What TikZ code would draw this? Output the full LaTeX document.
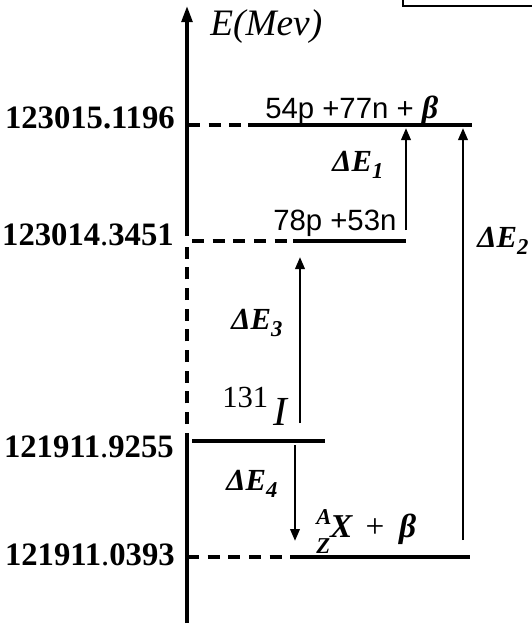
\documentclass[tikz,border=0pt]{standalone}
\usepackage{fontspec}
\setmainfont{Liberation Serif}
\newfontfamily\sansf{Liberation Sans}
\usetikzlibrary{arrows.meta}
\newcommand{\dE}[1]{ΔE\raisebox{-0.22em}{\fontsize{17}{17}\selectfont #1}}
\begin{document}
\begin{tikzpicture}[x=0.75pt,y=-0.75pt,
  level/.style={line width=2.5pt},
  guide/.style={line width=2.5pt, dash pattern=on 9pt off 6.5pt},
  trans/.style={line width=1.9pt,-{Triangle[length=9pt,width=7pt]}},
  val/.style={anchor=base east, inner sep=0pt, font=\fontsize{24.5}{24.5}\selectfont\bfseries},
  species/.style={anchor=base west, inner sep=0pt, font=\fontsize{22}{22}\selectfont\sansf},
  gap/.style={inner sep=0pt, font=\fontsize{23}{23}\selectfont\bfseries\itshape}]
\useasboundingbox (0,0) rectangle (532,626);

% corner of a frame at the top right
\draw[line width=1pt] (403,0) -- (403,6) -- (532,6);

% energy axis: solid, dashed middle part, arrow on top
\coordinate (ax0) at (187,623);
\coordinate (ax1) at (187,433);
\coordinate (ax2) at (187,424);
\coordinate (ax3) at (187,246);
\coordinate (ax4) at (187,236);
\coordinate (axtop) at (187,6);
\draw[level] (ax0) -- (ax1);
\draw[guide] (ax2) -- (ax3);
\draw[level,-{Triangle[length=12pt,width=8pt]}] (ax4) -- (axtop);
\node[anchor=base west, inner sep=0pt, font=\fontsize{28}{28}\selectfont\itshape] (unit) at (210,35) {E(Mev)};

% level 1
\coordinate (a1) at (188,125);
\coordinate (b1) at (248,125);
\coordinate (c1) at (472,125);
\draw[guide] (a1) -- (b1);
\draw[level] (b1) -- (c1);
\node[val] (v1) at (175,128) {123015.1196};
\node[species] (s1) at (265,118) {54p +77n + {\rmfamily\bfseries\itshape\fontsize{24}{24}\selectfont β}};

% level 2
\coordinate (a2) at (192,241);
\coordinate (b2) at (293,241);
\coordinate (c2) at (406,241);
\draw[guide] (a2) -- (b2);
\draw[level] (b2) -- (c2);
\node[val] (v2) at (174,245) {123014\textmd{.}3451};
\node[species] (s2) at (273,230) {78p +53n};

% level 3
\coordinate (a3) at (192,441);
\coordinate (c3) at (325,441);
\draw[level] (a3) -- (c3);
\node[val] (v3) at (174,457) {121911\textmd{.}9255};
\node[anchor=base west, inner sep=0pt] (s3) at (222,407)
  {{\fontsize{23}{23}\selectfont 131}\hspace{4pt}\raisebox{-13.5pt}{\fontsize{31}{31}\selectfont\itshape I}};

% level 4
\coordinate (a4) at (187,557);
\coordinate (b4) at (295,557);
\coordinate (c4) at (470,557);
\draw[guide] (a4) -- (b4);
\draw[level] (b4) -- (c4);
\node[anchor=base west, inner sep=0pt, font=\fontsize{25}{25}\selectfont\bfseries\itshape] (s4) at (316,537)
  {\rlap{\raisebox{9.5pt}{\fontsize{17}{17}\selectfont A}}\raisebox{-12pt}{\fontsize{17}{17}\selectfont Z}X\hspace{10pt}\textmd{\upshape +}\hspace{11pt}β};
\node[val] (v4) at (175,565) {121911\textmd{.}0393};

% transitions
\coordinate (t1a) at (406,230);
\coordinate (t1b) at (406,128);
\draw[trans] (t1a) -- (t1b);
\node[gap] (g1) at (358,165) {\dE{1}};

\coordinate (t2a) at (463,540);
\coordinate (t2b) at (463,128);
\draw[trans] (t2a) -- (t2b);
\node[gap] (g2) at (503,241) {\dE{2}};

\coordinate (t3a) at (300,423);
\coordinate (t3b) at (300,257);
\draw[trans] (t3a) -- (t3b);
\node[gap] (g3) at (257,323) {\dE{3}};

\coordinate (t4a) at (295,445);
\coordinate (t4b) at (295,541);
\draw[trans] (t4a) -- (t4b);
\node[gap] (g4) at (252,484) {\dE{4}};
\end{tikzpicture}
\end{document}
